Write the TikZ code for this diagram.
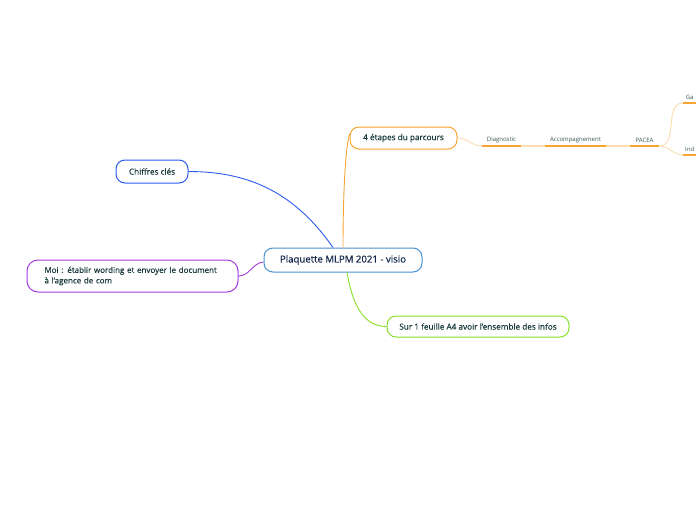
\documentclass[tikz,border=0pt]{standalone}
\usepackage{fontspec}
\setmainfont[FakeBold=0.25]{Open Sans}
\newfontfamily\centerfont[FakeBold=0.5]{Open Sans}
\newfontfamily\stepfont{Open Sans}
\usepackage{xcolor}
\usetikzlibrary{arrows.meta, positioning}
\definecolor{mapblue}{HTML}{2A5CF0}
\definecolor{mapcenter}{HTML}{4A90D0}
\definecolor{maporange}{HTML}{F5A530}
\definecolor{maplight}{HTML}{FDDDB0}
\definecolor{mappurple}{HTML}{A43AE0}
\definecolor{mapgreen}{HTML}{88E028}
\definecolor{maptext}{HTML}{17393A}
\definecolor{mapnavy}{HTML}{15284B}

\begin{document}
\begin{tikzpicture}[
        x=1pt, y=-1pt,
        topic/.style={rounded corners=9pt, draw, line width=1pt, fill=white, inner sep=2pt,
            text=maptext, font=\fontsize{8.2}{9.5}\selectfont},
        steplabel/.style={anchor=south, inner xsep=0pt, inner ysep=3pt, text=maptext!85,
            font=\stepfont\fontsize{6}{7}\selectfont},
        underline/.style={maporange, line width=2pt},
        branch/.style={line width=0.9pt}
    ]
        \useasboundingbox (0,0) rectangle (696,520);

        \node[topic, draw=mapcenter, text=mapnavy, minimum width=158, minimum height=24,
            font=\centerfont\fontsize{9.6}{11}\selectfont] (center) at (343,260) {Plaquette MLPM 2021 - visio};

        \node[topic, draw=mapblue, minimum width=72, minimum height=23] (chiffres) at (152,171.5) {Chiffres clés};
        \node[topic, draw=maporange, minimum width=107, minimum height=22] (etapes) at (403.5,138) {4 étapes du parcours};
        \node[topic, draw=mappurple, minimum width=211, minimum height=32, rounded corners=11pt,
            align=left, text width=176, font=\fontsize{8}{10.5}\selectfont] (moi) at (132.5,276)
            {Moi : établir wording et envoyer le document\\à l'agence de com};
        \node[topic, draw=mapgreen, minimum width=182, minimum height=21] (feuille) at (478,326.5)
            {Sur 1 feuille A4 avoir l'ensemble des infos};

        % branches du centre
        \draw[branch, mapblue] ([xshift=-10pt]center.north) to[out=125, in=0] (chiffres.east);
        \draw[branch, maporange] (center.north) .. controls (343,200) and (345,150) .. ([yshift=4pt]etapes.west);
        \draw[branch, mappurple] (moi.east) to[out=0, in=185] ([yshift=-2pt]center.west);
        \draw[branch, mapgreen] ([xshift=4pt]center.south) to[out=-80, in=180] (feuille.west);

        % étapes
        \node[steplabel, minimum width=39] (diag) at (501.5,146) {Diagnostic};
        \node[steplabel, minimum width=61] (accomp) at (575.5,146) {Accompagnement};
        \node[steplabel, minimum width=29] (pacea) at (644.5,146) {PACEA};
        \node[steplabel, anchor=south west, minimum width=13] (ga) at (683,103) {Ga};
        \node[steplabel, anchor=south west, minimum width=13] (ind) at (683,155) {Ind};

        \foreach \n in {diag, accomp, pacea, ga, ind}
            \draw[underline] (\n.south west) -- (\n.south east);

        \draw[branch, maplight] (etapes.east) to[out=0, in=180] (diag.south west);
        \draw[branch, maplight, line width=2pt] (diag.south east) -- (accomp.south west);
        \draw[branch, maplight, line width=2pt] (accomp.south east) -- (pacea.south west);
        \draw[branch, maplight] (pacea.south east) to[out=0, in=180] (ga.south west);
        \draw[branch, maplight] (pacea.south east) to[out=0, in=180] (ind.south west);
    \end{tikzpicture}
\end{document}
